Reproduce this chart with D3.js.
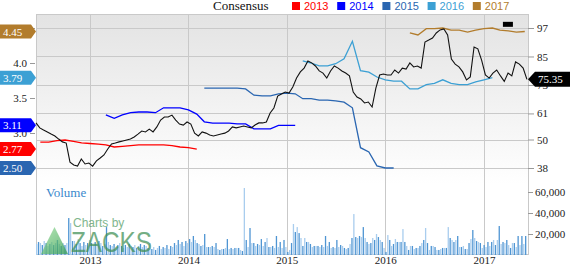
<!DOCTYPE html>
<html>
<head>
<meta charset="utf-8">
<script src="https://cdn.jsdelivr.net/npm/d3@7"></script>
<style>
  body { margin: 0; background: #fff; }
  svg { display: block; }
  text { font-family: "Liberation Serif", "DejaVu Serif", serif; }
</style>
</head>
<body>
<svg id="chart"></svg>
<script>
const size = {w: 570, h: 264};
const plot = {l: 36, r: 528, t: 14, b: 254};

// ---- data ----
const years = ['2013', '2014', '2015', '2016', '2017'];
const priceTicks = [38, 50, 61, 73, 85, 97];
const epsTicks = [2.5, 3.0, 3.5, 4.0, 4.5];
const volumeTicks = [20, 40, 60]; // thousands

// closing price, one value every 2 weeks from 2012-06-15
const priceStart = '2012-06-15';
const price = [
  57.0, 54.9, 54.0, 53.2, 52.3, 51.5, 50.2, 49.0, 48.5, 40.5,
  39.3, 38.8, 41.8, 39.7, 40.1, 38.8, 41.0, 42.2, 43.5, 46.0,
  48.1, 48.5, 49.0, 49.4, 49.8, 50.2, 51.1, 52.3, 53.6, 53.2,
  54.4, 53.2, 55.3, 58.2, 59.5, 59.5, 60.3, 58.2, 56.5, 56.1,
  57.4, 56.5, 52.7, 51.5, 53.2, 52.7, 51.9, 51.5, 51.9, 52.3,
  52.7, 53.6, 55.3, 54.9, 55.3, 55.7, 55.3, 54.9, 56.1, 57.0,
  57.0, 57.4, 61.2, 63.3, 68.3, 69.2, 70.0, 69.6, 72.1, 75.9,
  78.5, 80.1, 83.1, 82.3, 81.0, 78.9, 78.0, 75.9, 78.9, 81.0,
  80.1, 78.9, 78.0, 76.8, 70.0, 67.9, 67.1, 65.4, 65.8, 63.7,
  71.7, 77.2, 77.6, 77.2, 77.2, 79.3, 78.0, 80.1, 79.7, 82.3,
  80.6, 81.0, 80.1, 91.1, 91.9, 92.8, 94.9, 96.2, 96.6, 94.1,
  83.9, 81.8, 80.6, 78.5, 75.1, 76.4, 89.0, 88.2, 83.5, 77.2,
  75.9, 78.0, 79.3, 76.8, 74.5, 78.0, 76.8, 82.7, 81.8, 80.1,
  75.35
];

// weekly volume (thousands) from 2012-06-15
const volumeStart = '2012-06-15';
const volumeK = [
  10.5, 12.4, 11.4, 9.5, 13.3, 11.4, 8.6, 10.5, 12.4, 9.5, 11.4, 14.3, 10.5, 8.6, 11.4, 9.5,
  11.4, 35.2, 30.4, 13.3,
  13.3, 10.5, 15.2, 11.4, 8.6, 12.4, 9.5, 11.4, 14.3,
  11.4, 9.5, 12.4, 10.5, 13.3, 11.4, 8.6, 10.5, 26.6, 12.4, 9.5,
  8.6, 10.5, 7.6, 9.5, 11.4, 8.6, 6.7, 9.5, 7.6, 10.5, 8.6, 7.6, 9.5, 6.7, 8.6, 10.5, 7.6, 9.5, 8.6, 6.7, 11.4,
  5.7, 7.6, 4.8, 6.7, 8.6, 5.7, 7.6, 6.7, 9.5, 5.7, 8.6, 7.6,
  11.4, 9.5, 14.3, 10.5, 12.4, 8.6, 13.3, 11.4, 15.2, 12.4, 18.1, 14.3, 11.4, 10.5,
  8.6, 9.5, 20.0, 7.6, 7.6, 7.6, 8.6, 7.6, 11.4, 5.7, 4.8, 5.7, 5.7, 6.7, 15.2, 5.7, 6.7, 5.7, 6.7, 6.7, 6.7, 4.8, 3.8, 63.8,
  14.3, 7.6, 25.7, 11.4, 11.4, 8.6, 10.5,
  9.5, 15.2, 8.6, 12.4, 16.2, 7.6, 7.6, 8.6, 6.7, 18.1, 7.6, 12.4, 6.7, 14.3, 7.6, 2.9, 4.8,
  11.4, 29.5, 21.9, 26.6, 20.9, 16.2, 8.6, 16.2, 12.4, 12.4,
  10.5, 7.6, 8.6, 8.6, 8.6, 7.6, 9.5, 7.6, 18.1, 8.6,
  12.4, 6.7, 7.6, 6.7, 14.3, 7.6, 9.5, 8.6, 6.7, 5.7,
  6.7, 10.5, 16.2, 39.0, 17.1, 16.2, 18.1, 17.1, 26.6, 16.2,
  12.4, 10.5, 11.4, 16.2, 14.3, 20.0, 17.1, 14.3, 12.4, 6.7,
  2.9, 19.0, 14.3, 8.6, 10.5, 15.2, 12.4, 12.4, 12.4, 24.7,
  12.4, 8.6, 4.8, 8.6, 8.6, 5.7, 6.7, 6.7, 8.6, 11.4,
  14.3, 25.7, 11.4, 4.8, 8.6, 8.6, 7.6, 4.8, 4.8, 5.7,
  6.7, 6.7, 6.7, 26.6, 16.2, 14.3, 12.4, 14.3, 18.1, 7.6,
  7.6, 8.6, 5.7, 5.7, 11.4, 15.2, 23.8, 16.2, 13.3, 12.4,
  11.4, 6.7, 9.5, 7.6, 12.4, 8.6, 12.4, 14.3, 9.5, 14.3,
  27.6, 10.5, 12.4, 11.4, 14.3, 9.5, 6.7, 11.4, 11.4, 7.6,
  18.1, 9.5, 18.1, 10.5, 18.1
];

// monthly consensus EPS per fiscal year
const epsStart = ['2012-07-01', '2013-03-01', '2014-03-01', '2015-03-01', '2016-04-01'];
const eps2013 = [2.87, 2.87, 2.89, 2.90, 2.88, 2.86, 2.85, 2.84, 2.83, 2.80, 2.81, 2.82, 2.83, 2.83, 2.83, 2.83, 2.82, 2.80, 2.79, 2.77];
const eps2014 = [3.26, 3.21, 3.26, 3.29, 3.30, 3.30, 3.29, 3.36, 3.36, 3.36, 3.33, 3.27, 3.16, 3.14, 3.14, 3.14, 3.13, 3.13, 3.06, 3.06, 3.06, 3.11, 3.11, 3.11];
const eps2015 = [3.64, 3.64, 3.64, 3.64, 3.64, 3.63, 3.54, 3.53, 3.53, 3.56, 3.57, 3.56, 3.49, 3.49, 3.47, 3.47, 3.46, 3.44, 3.36, 2.79, 2.73, 2.53, 2.50, 2.50];
const eps2016 = [4.03, 4.00, 3.96, 3.96, 3.99, 4.06, 4.31, 3.89, 3.87, 3.80, 3.76, 3.74, 3.74, 3.63, 3.63, 3.69, 3.71, 3.76, 3.71, 3.69, 3.69, 3.73, 3.76, 3.79];
const eps2017 = [4.43, 4.40, 4.49, 4.49, 4.50, 4.47, 4.47, 4.44, 4.47, 4.49, 4.50, 4.47, 4.46, 4.44, 4.45];

const epsColors = ['#ff0000', '#0000ff', '#2a66b1', '#3ca0d4', '#b27c2c'];

// ---- drawing ----
const parse = d3.utcParse('%Y-%m-%d');
const svg = d3.select('#chart').attr('width', size.w).attr('height', size.h);

const x = d3.scaleTime()
  .domain([parse('2012-06-15'), parse('2017-06-13')])
  .range([plot.l, plot.r]);
const yPrice = d3.scaleLinear().domain([38, 97]).range([168, 28]);
const yEps = d3.scaleLinear().domain([2.5, 4.5]).range([168, 28]);
const yVol = d3.scaleLinear().domain([0, 60]).range([255, 192]);

const defs = svg.append('defs');
const grad = defs.append('linearGradient').attr('id', 'bg')
  .attr('x1', 0).attr('y1', 0).attr('x2', 0).attr('y2', 1);
grad.append('stop').attr('offset', '0%').attr('stop-color', '#e3e3e3');
grad.append('stop').attr('offset', '100%').attr('stop-color', '#ffffff');

const tri = defs.append('linearGradient').attr('id', 'tri')
  .attr('x1', 0).attr('y1', 0).attr('x2', 1).attr('y2', 1);
tri.append('stop').attr('offset', '0%').attr('stop-color', '#9be09b');
tri.append('stop').attr('offset', '100%').attr('stop-color', '#2f9a4a');

svg.append('rect')
  .attr('x', plot.l).attr('y', plot.t)
  .attr('width', plot.r - plot.l).attr('height', 170)
  .attr('fill', 'url(#bg)');

// grid
const grid = svg.append('g').attr('stroke', '#c9c9c9').attr('stroke-width', 1);
grid.selectAll('line.h')
  .data(priceTicks)
  .join('line').classed('h', true)
  .attr('x1', plot.l).attr('x2', plot.r)
  .attr('y1', d => Math.round(yPrice(d)) + 0.5)
  .attr('y2', d => Math.round(yPrice(d)) + 0.5);
const yearDates = years.map(y => parse(y + '-01-01'));
grid.selectAll('line.v')
  .data(yearDates)
  .join('line').classed('v', true)
  .attr('y1', plot.t).attr('y2', plot.b)
  .attr('x1', d => Math.round(x(d)) + 0.5)
  .attr('x2', d => Math.round(x(d)) + 0.5);
svg.append('rect')
  .attr('x', plot.l + 0.5).attr('y', plot.t + 0.5)
  .attr('width', plot.r - plot.l).attr('height', plot.b - plot.t)
  .attr('fill', 'none').attr('stroke', '#c9c9c9');

// volume
const vStart = parse(volumeStart);
svg.append('g').selectAll('rect')
  .data(volumeK)
  .join('rect')
  .attr('x', (d, i) => x(d3.utcWeek.offset(vStart, i)))
  .attr('width', 1.3)
  .attr('y', d => yVol(d))
  .attr('height', d => yVol(0) - yVol(d))
  .attr('fill', (d, i) => i % 2 ? '#4f95d3' : '#a9cdee');

// watermark
const wm = svg.append('g').attr('opacity', 0.72);
wm.append('path')
  .attr('d', 'M41,254 L54.5,227 L68,254 Z')
  .attr('fill', 'url(#tri)');
wm.append('text')
  .attr('x', 73).attr('y', 227)
  .style('font-family', '"Liberation Sans", Arial, sans-serif')
  .attr('font-size', 12).attr('fill', '#4f9a62')
  .text('Charts by');
wm.append('text')
  .attr('x', 71).attr('y', 252)
  .style('font-family', '"Liberation Sans", Arial, sans-serif')
  .attr('font-size', 30)
  .attr('textLength', 81).attr('lengthAdjust', 'spacingAndGlyphs')
  .attr('fill', '#3f8f55')
  .text('ZACKS');

svg.append('text')
  .attr('x', 46).attr('y', 197)
  .attr('font-size', 13).attr('fill', '#3a88cc')
  .text('Volume');

// consensus lines
const epsSeries = [eps2013, eps2014, eps2015, eps2016, eps2017].map((vals, k) => ({
  year: years[k],
  color: epsColors[k],
  values: vals.map((v, i) => ({date: d3.utcMonth.offset(parse(epsStart[k]), i), v}))
}));
const epsLine = d3.line().x(d => x(d.date)).y(d => yEps(d.v));
svg.append('g').attr('fill', 'none')
  .selectAll('path')
  .data(epsSeries)
  .join('path')
  .attr('stroke', d => d.color)
  .attr('stroke-width', 1.3)
  .attr('d', d => epsLine(d.values));

// price
const pStart = parse(priceStart);
const priceLine = d3.line()
  .x((d, i) => x(d3.utcDay.offset(pStart, 14 * i)))
  .y(d => yPrice(d));
svg.append('path')
  .attr('fill', 'none').attr('stroke', '#111').attr('stroke-width', 1.1)
  .attr('d', priceLine(price));

// earnings marker
svg.append('rect')
  .attr('x', x(parse('2017-03-12'))).attr('y', yPrice(99.6))
  .attr('width', 10).attr('height', 5).attr('fill', '#000');

// axes
const styleAxis = g => {
  g.select('.domain').remove();
  g.selectAll('.tick line').attr('stroke', '#999');
  g.selectAll('.tick text').attr('fill', '#222').attr('font-size', 11)
    .style('font-family', '"Liberation Serif", serif');
};
svg.append('g')
  .attr('transform', `translate(${plot.l - 1},0)`)
  .call(d3.axisLeft(yEps).tickValues(epsTicks).tickSize(5).tickPadding(3).tickFormat(d3.format('.1f')))
  .call(styleAxis);
svg.append('g')
  .attr('transform', `translate(${plot.r},0)`)
  .call(d3.axisRight(yPrice).tickValues(priceTicks).tickSize(6).tickPadding(3))
  .call(styleAxis);
svg.append('g')
  .attr('transform', `translate(${plot.r},0)`)
  .call(d3.axisRight(yVol).tickValues(volumeTicks).tickSize(5).tickPadding(2)
    .tickFormat(d => d3.format(',')(d * 1000)))
  .call(styleAxis);
svg.append('g')
  .attr('transform', `translate(0,${plot.b})`)
  .call(d3.axisBottom(x).tickValues(yearDates).tickSize(0).tickPadding(2)
    .tickFormat(d3.utcFormat('%Y')))
  .call(styleAxis);

// callouts on the left (last consensus value)
const callL = svg.append('g').selectAll('g')
  .data(epsSeries)
  .join('g')
  .attr('transform', d => `translate(0,${yEps(d.values[d.values.length - 1].v)})`);
callL.append('path')
  .attr('d', 'M0,-7 L31,-7 L36,0 L31,7 L0,7 Z')
  .attr('fill', d => d.color);
callL.append('text')
  .attr('x', 3).attr('y', 4)
  .attr('font-size', 11).attr('fill', '#fff')
  .text(d => d3.format('.2f')(d.values[d.values.length - 1].v));

// price callout on the right
const lastPrice = price[price.length - 1];
const callR = svg.append('g').attr('transform', `translate(0,${yPrice(lastPrice)})`);
callR.append('path')
  .attr('d', `M${plot.r},0 L${plot.r + 7},-7.5 L${size.w},-7.5 L${size.w},7.5 L${plot.r + 7},7.5 Z`)
  .attr('fill', '#000');
callR.append('text')
  .attr('x', plot.r + 10).attr('y', 4)
  .attr('font-size', 11).attr('fill', '#fff')
  .text(d3.format('.2f')(lastPrice));

// legend
svg.append('text')
  .attr('x', 213).attr('y', 10)
  .attr('font-size', 13).attr('fill', '#111')
  .text('Consensus');
const leg = svg.append('g').selectAll('g')
  .data(epsSeries)
  .join('g')
  .attr('transform', (d, i) => `translate(${292 + i * 45.2},0)`);
leg.append('rect')
  .attr('x', 0).attr('y', 2).attr('width', 8).attr('height', 8)
  .attr('fill', d => d.color);
leg.append('text')
  .attr('x', 12).attr('y', 10)
  .style('font-family', '"Liberation Sans", Arial, sans-serif')
  .attr('font-size', 11)
  .attr('fill', d => d.color)
  .text(d => d.year);
</script>
</body>
</html>
